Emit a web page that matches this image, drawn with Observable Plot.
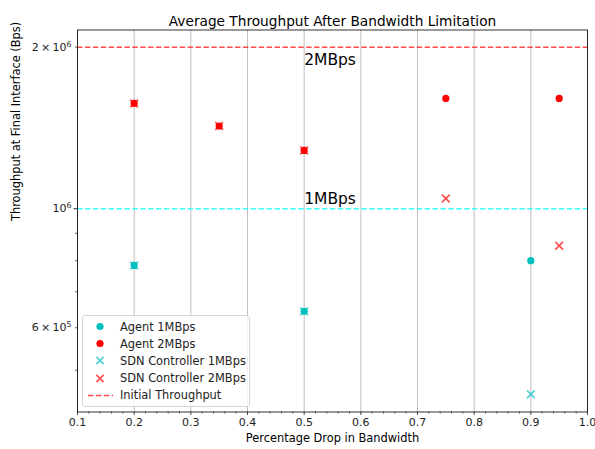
<!DOCTYPE html>
<html>
<head>
<meta charset="utf-8">
<script src="https://cdn.jsdelivr.net/npm/d3@7"></script>
<script src="https://cdn.jsdelivr.net/npm/@observablehq/plot@0.6"></script>
<style>
  body { margin: 0; background: #fff; font-family: "DejaVu Sans", sans-serif; }
  #wrap { position: relative; width: 595px; height: 449px; }
  #legend { position: absolute; left: 82px; top: 315px; width: 168px; height: 92px; box-sizing: border-box;
    border: 1px solid #d6d6d6; border-radius: 3px; background: rgba(255,255,255,0.8); font-size: 11.4px; color: #222; }
  .row { position: absolute; left: 0; height: 17px; display: flex; align-items: center; }
  .row svg { width: 36px; height: 17px; }
  .row span { margin-left: 1px; white-space: nowrap; }
</style>
</head>
<body>
<div id="wrap"></div>
<script>
// ---- data ----
const title = "Average Throughput After Bandwidth Limitation";
const xLabel = "Percentage Drop in Bandwidth";
const yLabel = "Throughput at Final Interface (Bps)";

const xAgent1 = [0.2, 0.5, 0.9];
const yAgent1 = [7.84e5, 6.44e5, 8.0e5];
const xAgent2 = [0.2, 0.35, 0.5, 0.75, 0.95];
const yAgent2 = [1.571e6, 1.426e6, 1.284e6, 1.605e6, 1.605e6];
const xSdn1 = [0.2, 0.5, 0.9];
const ySdn1 = [7.84e5, 6.44e5, 4.51e5];
const xSdn2 = [0.2, 0.35, 0.5, 0.75, 0.95];
const ySdn2 = [1.571e6, 1.426e6, 1.284e6, 1.045e6, 0.853e6];

const initialThroughput = [2e6, 1e6];
const annotations = ["2MBps", "1MBps"];
const annotationX = [0.5, 0.5];
const annotationY = [1.889e6, 1.041e6];

const xTicks = [0.1, 0.2, 0.3, 0.4, 0.5, 0.6, 0.7, 0.8, 0.9, 1.0];
const yLabeledTicks = [6e5, 1e6, 2e6];
const yTickBase = ["6\u2009\u00d7\u200910", "10", "2\u2009\u00d7\u200910"];
const yTickExp = ["5", "6", "6"];
const yMinorTicks = [5e5, 7e5, 8e5, 9e5];

const legendLabels = ["Agent 1MBps", "Agent 2MBps", "SDN Controller 1MBps", "SDN Controller 2MBps", "Initial Throughput"];

// ---- build ----
const C1 = "#00bfbf", C2 = "#ff0000";
const C1x = "rgba(0,191,191,0.7)", C2x = "rgba(255,0,0,0.7)";
const toRows = (xs, ys) => xs.map((x, i) => ({x, y: ys[i]}));
const xMinor = d3.range(0.1, 1.0001, 0.02).map(v => +v.toFixed(2)).filter(v => !xTicks.some(t => Math.abs(t - v) < 1e-9));
const annRows = annotations.map((t, i) => ({t, x: annotationX[i], y: annotationY[i]}));
const yTickText = yLabeledTicks.map((v, i) => yTickBase[i] + "^" + yTickExp[i]);

const plot = Plot.plot({
  width: 595,
  height: 449,
  marginLeft: 77,
  marginRight: 8,
  marginTop: 29.5,
  marginBottom: 37.5,
  style: {fontFamily: "DejaVu Sans, sans-serif", background: "#fff"},
  x: {domain: [0.1, 1.0]},
  y: {type: "log", domain: [4.18e5, 2.153e6]},
  marks: [
    Plot.gridX(xTicks, {stroke: "#b0b0b0", strokeOpacity: 1, strokeWidth: 0.8}),
    Plot.ruleY([initialThroughput[0]], {stroke: "red", strokeOpacity: 0.7, strokeWidth: 1.5, strokeDasharray: "5.5,2.4"}),
    Plot.ruleY([initialThroughput[1]], {stroke: "#00ffff", strokeOpacity: 0.75, strokeWidth: 1.5, strokeDasharray: "5.5,2.4"}),
    Plot.dot(toRows(xAgent1, yAgent1), {x: "x", y: "y", r: 3.6, fill: C1, stroke: "none"}),
    Plot.dot(toRows(xAgent2, yAgent2), {x: "x", y: "y", r: 3.6, fill: C2, stroke: "none"}),
    Plot.dot(toRows(xSdn1, ySdn1), {x: "x", y: "y", symbol: "times", r: 3.6, stroke: C1x, strokeWidth: 1.6}),
    Plot.dot(toRows(xSdn2, ySdn2), {x: "x", y: "y", symbol: "times", r: 3.6, stroke: C2x, strokeWidth: 1.6}),
    Plot.text(annRows, {x: "x", y: "y", text: "t", textAnchor: "start", fontSize: 15.5, fill: "#000"}),
    Plot.axisX(xTicks, {tickFormat: d => d.toFixed(1), tickSize: 3.5, tickPadding: 3, fontSize: 11, label: null, color: "#222", strokeWidth: 0.8}),
    Plot.axisX(xMinor, {tickFormat: () => "", tickSize: 2, label: null, strokeWidth: 0.6}),
    Plot.axisY([1e6], {tickFormat: () => "", tickSize: 3.5, label: null, strokeWidth: 0.8}),
    Plot.axisY(yLabeledTicks.filter(v => v !== 1e6).concat(yMinorTicks), {tickFormat: () => "", tickSize: 2, label: null, strokeWidth: 0.6}),
    Plot.axisY(yLabeledTicks, {tickFormat: d => yTickText[yLabeledTicks.indexOf(d)], tickSize: 0, tickPadding: 6, fontSize: 11, label: null, color: "#222"}),
    Plot.frame({stroke: "#000", strokeWidth: 0.8}),
    Plot.text([title], {frameAnchor: "top", dy: -13.5, fontSize: 13.7, fill: "#000"}),
    Plot.text([xLabel], {frameAnchor: "bottom", dy: 30, fontSize: 11.4, fill: "#000"}),
    Plot.text([yLabel], {frameAnchor: "left", dx: -61, rotate: -90, fontSize: 11.4, fill: "#000"})
  ]
});
// render superscript exponents in y tick labels
plot.querySelectorAll("text").forEach(t => {
  const s = t.textContent;
  const i = yTickText.indexOf(s);
  if (i >= 0) {
    t.textContent = yTickBase[i];
    const sup = document.createElementNS("http://www.w3.org/2000/svg", "tspan");
    sup.setAttribute("dy", "-0.5em");
    sup.setAttribute("font-size", "0.72em");
    sup.textContent = yTickExp[i];
    t.appendChild(sup);
  }
});
const wrap = document.getElementById("wrap");
wrap.appendChild(plot);

// legend (HTML overlay)
const legend = document.createElement("div");
legend.id = "legend";
const sym = [
  `<circle cx="17" cy="8.5" r="3.6" fill="${C1}"/>`,
  `<circle cx="17" cy="8.5" r="3.6" fill="${C2}"/>`,
  `<path d="M13.4,4.9L20.6,12.1M13.4,12.1L20.6,4.9" stroke="${C1x}" stroke-width="1.6"/>`,
  `<path d="M13.4,4.9L20.6,12.1M13.4,12.1L20.6,4.9" stroke="${C2x}" stroke-width="1.6"/>`,
  `<line x1="5" x2="30" y1="8.5" y2="8.5" stroke="${C2x}" stroke-width="1.5" stroke-dasharray="5.5,2.4"/>`
];
legendLabels.forEach((lab, i) => {
  const row = document.createElement("div");
  row.className = "row";
  row.style.top = (2 + i * 17.2) + "px";
  row.innerHTML = `<svg>${sym[i]}</svg><span>${lab}</span>`;
  legend.appendChild(row);
});
wrap.appendChild(legend);
</script>
</body>
</html>
